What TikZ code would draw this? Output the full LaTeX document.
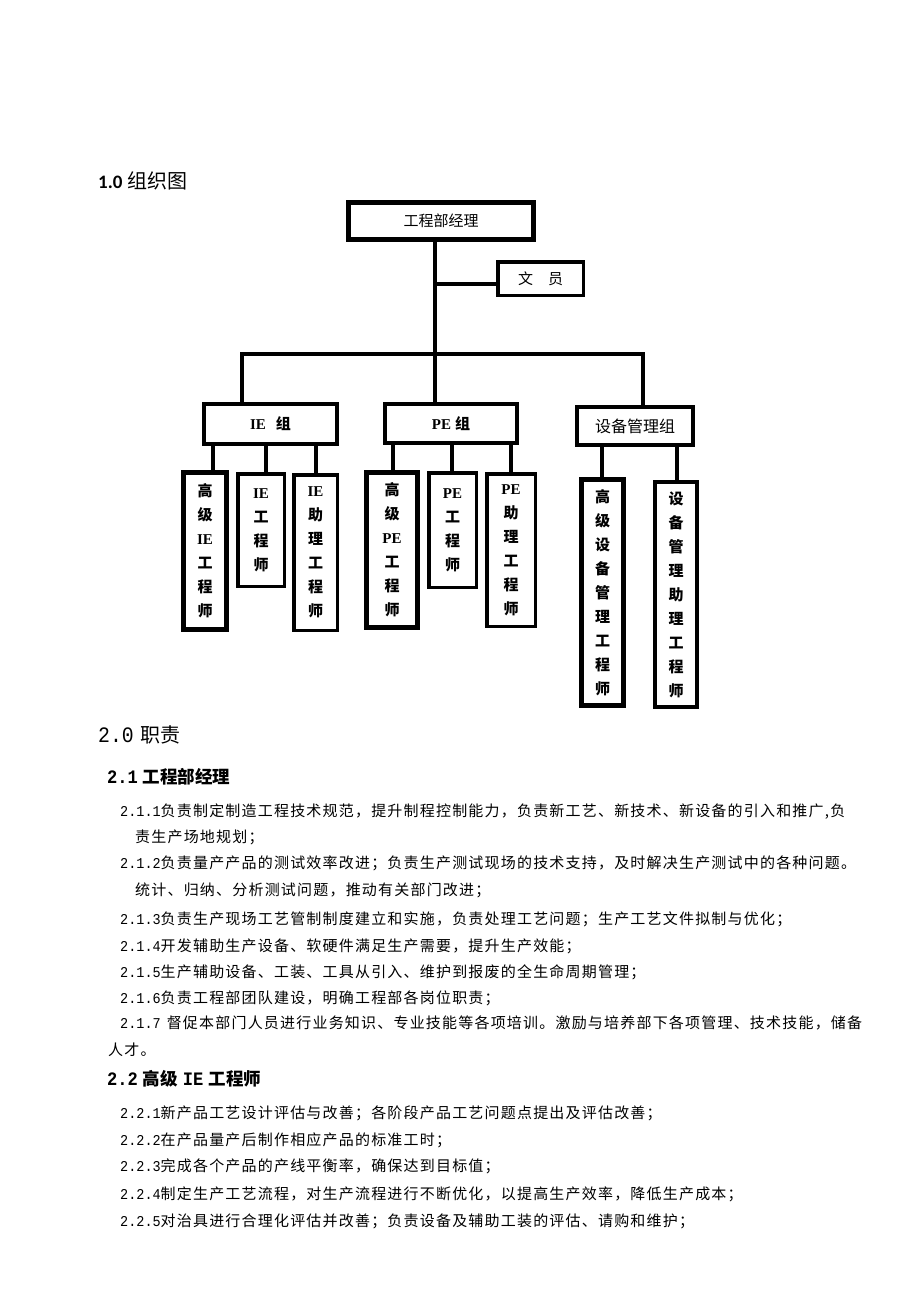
\documentclass[tikz,border=0pt]{standalone}
\usepackage{fontspec}
\setmainfont{Liberation Serif}
\newfontfamily\cjk{Noto Sans CJK SC}
\newfontfamily\cjkb[LetterSpace=8]{Noto Sans CJK SC}
\newfontfamily\dig[FakeStretch=0.9]{Liberation Mono}
\newfontfamily\calib{Carlito}
\newcommand\en[1]{{\rmfamily\bfseries #1}}
\newcommand\jl[2]{\makebox[#1][s]{\XeTeXlinebreaklocale "zh"\XeTeXlinebreakskip=0pt plus 1fil #2}}
\newcommand\bodyfont{\cjkb\fontsize{15}{15}\selectfont}
\begin{document}
\begin{tikzpicture}[x=1pt,y=-1pt,
  conn/.style={line width=4pt},
  bus/.style={line width=3.5pt},
  bigbox/.style={draw, line width=5pt, inner sep=0pt, align=center},
  midbox/.style={draw, line width=4pt, inner sep=0pt, align=center},
  thinbox/.style={draw, line width=3.5pt, inner sep=0pt, align=center},
  vt/.style={font=\cjk\bfseries\fontsize{15}{24}\selectfont},
  txt/.style={anchor=base west, inner sep=0pt},
  body/.style={anchor=base west, inner sep=0pt, font=\bodyfont}]
\fill[white] (0,0) rectangle (920,1302);
\useasboundingbox (0,0) rectangle (920,1302);

% heading
\node[txt] (h1) at (98,188) {{\calib\bfseries\fontsize{19}{19}\selectfont 1.0}\hspace{5pt}{\cjk\fontsize{20}{20}\selectfont 组织图}};

% chart
\node[bigbox, minimum width=185pt, minimum height=37pt, font=\cjk\fontsize{15}{18}\selectfont] (mgr) at (441,221) {工程部经理};
\node[thinbox, minimum width=85.5pt, minimum height=33.5pt, font=\cjk\fontsize{15}{18}\selectfont] (clerk) at (540.5,278.5) {文\hspace{15pt}员};

\node[midbox, minimum width=133pt, minimum height=40pt, font=\cjk\bfseries\fontsize{15}{18}\selectfont] (ieg) at (270.5,424) {\en{IE}\hspace{10pt}组};
\node[midbox, minimum width=132pt, minimum height=39pt, font=\cjk\bfseries\fontsize{15}{18}\selectfont] (peg) at (451,423.5) {\en{PE}\hspace{4pt}组};
\node[midbox, minimum width=116pt, minimum height=38pt, font=\cjk\fontsize{16}{18}\selectfont] (eqg) at (635,426) {设备管理组};

\node[bigbox, vt, minimum width=43pt, minimum height=157pt] (c1) at (205,551) {高\\级\\\en{IE}\\工\\程\\师};
\node[thinbox, vt, minimum width=46.5pt, minimum height=112.5pt] (c2) at (261,530) {\en{IE}\\工\\程\\师};
\node[thinbox, vt, minimum width=43.5pt, minimum height=155.5pt] (c3) at (315.5,552.5) {\en{IE}\\助\\理\\工\\程\\师};
\node[bigbox, vt, minimum width=51pt, minimum height=155pt] (c4) at (392,550) {高\\级\\\en{PE}\\工\\程\\师};
\node[thinbox, vt, minimum width=47.5pt, minimum height=114.5pt] (c5) at (452.5,530) {\en{PE}\\工\\程\\师};
\node[thinbox, vt, minimum width=48.5pt, minimum height=152.5pt] (c6) at (511,550) {\en{PE}\\助\\理\\工\\程\\师};
\node[bigbox, vt, minimum width=42pt, minimum height=226pt] (c7) at (602.5,592.5) {高\\级\\设\\备\\管\\理\\工\\程\\师};
\node[midbox, vt, minimum width=42pt, minimum height=225pt] (c8) at (676,594.5) {设\\备\\管\\理\\助\\理\\工\\程\\师};

\coordinate (tx) at (434.5,0);
\coordinate (cj) at (0,284);
\coordinate (busL) at (242,354);
\coordinate (busR) at (643,354);
\coordinate (k1) at (213,0);
\coordinate (k2) at (266,0);
\coordinate (k3) at (316,0);
\coordinate (k4) at (393,0);
\coordinate (k5) at (452,0);
\coordinate (k6) at (511,0);
\coordinate (k7) at (602,0);
\coordinate (k8) at (677,0);

\draw[conn] (mgr.south -| tx) -- (tx |- busL);
\draw[conn] (tx |- cj) -- (clerk.west |- cj);
\draw[bus] (ieg.north -| busL) -- (busL) -- (busR) -- (eqg.north -| busR);
\draw[conn] (tx |- busL) -- (peg.north -| tx);

\draw[conn] (ieg.south -| k1) -- (c1.north -| k1);
\draw[conn] (ieg.south -| k2) -- (c2.north -| k2);
\draw[conn] (ieg.south -| k3) -- (c3.north -| k3);
\draw[conn] (peg.south -| k4) -- (c4.north -| k4);
\draw[conn] (peg.south -| k5) -- (c5.north -| k5);
\draw[conn] (peg.south -| k6) -- (c6.north -| k6);
\draw[conn] (eqg.south -| k7) -- (c7.north -| k7);
\draw[conn] (eqg.south -| k8) -- (c8.north -| k8);

% text section
\node[txt] (h2) at (98,742) {{\dig\fontsize{22}{22}\selectfont 2.0}\hspace{7pt}{\cjk\fontsize{20}{20}\selectfont 职责}};
\node[txt] (h3) at (107,783.5) {{\dig\bfseries\fontsize{19}{19}\selectfont 2.1}\hspace{5pt}{\cjk\bfseries\fontsize{17.5}{17.5}\selectfont 工程部经理}};

\node[body] (l1) at (120,816) {\jl{728pt}{{\dig 2.1.1}负责制定制造工程技术规范，提升制程控制能力，负责新工艺、新技术、新设备的引入和推广,负}};
\node[body] (l2) at (135,842) {责生产场地规划；};
\node[body] (l3) at (120,868) {\jl{730pt}{{\dig 2.1.2}负责量产产品的测试效率改进；负责生产测试现场的技术支持，及时解决生产测试中的各种问题。}};
\node[body] (l4) at (135,895) {统计、归纳、分析测试问题，推动有关部门改进；};
\node[body] (l5) at (120,924) {{\dig 2.1.3}负责生产现场工艺管制制度建立和实施，负责处理工艺问题；生产工艺文件拟制与优化；};
\node[body] (l6) at (120,951) {{\dig 2.1.4}开发辅助生产设备、软硬件满足生产需要，提升生产效能；};
\node[body] (l7) at (120,977) {{\dig 2.1.5}生产辅助设备、工装、工具从引入、维护到报废的全生命周期管理；};
\node[body] (l8) at (120,1003) {{\dig 2.1.6}负责工程部团队建设，明确工程部各岗位职责；};
\node[body] (l9) at (120,1028) {\jl{742pt}{{\dig 2.1.7 }督促本部门人员进行业务知识、专业技能等各项培训。激励与培养部下各项管理、技术技能，储备}};
\node[body] (l10) at (108,1055) {人才。};

\node[txt] (h4) at (107,1085.5) {{\dig\bfseries\fontsize{19}{19}\selectfont 2.2}\hspace{5pt}{\cjk\bfseries\fontsize{17.5}{17.5}\selectfont 高级}\hspace{5pt}{\dig\bfseries\fontsize{19}{19}\selectfont IE}\hspace{5pt}{\cjk\bfseries\fontsize{17.5}{17.5}\selectfont 工程师}};

\node[body] (m1) at (120,1118) {{\dig 2.2.1}新产品工艺设计评估与改善；各阶段产品工艺问题点提出及评估改善；};
\node[body] (m2) at (120,1145) {{\dig 2.2.2}在产品量产后制作相应产品的标准工时；};
\node[body] (m3) at (120,1171) {{\dig 2.2.3}完成各个产品的产线平衡率，确保达到目标值；};
\node[body] (m4) at (120,1199) {{\dig 2.2.4}制定生产工艺流程，对生产流程进行不断优化，以提高生产效率，降低生产成本；};
\node[body] (m5) at (120,1226) {{\dig 2.2.5}对治具进行合理化评估并改善；负责设备及辅助工装的评估、请购和维护；};
\end{tikzpicture}
\end{document}
